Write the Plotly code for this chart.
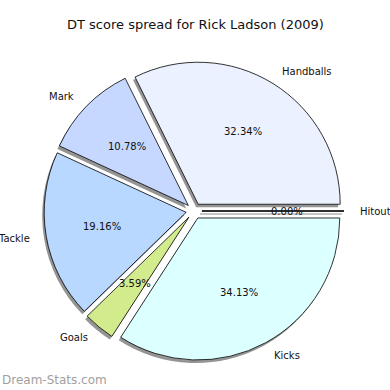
import math
import plotly.graph_objects as go

title = "DT score spread for Rick Ladson (2009)"
labels = ["Handballs", "Mark", "Tackle", "Goals", "Kicks", "Hitout"]
values = [54, 18, 32, 6, 57, 0]
colors = ["#EBF1FF", "#C6D8FF", "#B8D8FF", "#D2EB8C", "#DCFFFF", "#E8E8E8"]
watermark = "Dream-Stats.com"

W = H = 390
CX, CY = 194.0, 211.0      # pie centre (px)
R = 142.0                  # radius (px)
PULL = 0.056               # explode fraction of radius
SH_DX, SH_DY = -2.0, 3.0   # shadow offset (px)

half = R * (1 + PULL)
total = sum(values)
# plotly (counterclockwise) puts the first slice clockwise of `rotation`;
# we want it to start at 3 o'clock and go counter-clockwise
rotation = 90 - 360.0 * values[0] / total


def dom(cx, cy):
    return dict(x=[(cx - half) / W, (cx + half) / W],
                y=[1 - (cy + half) / H, 1 - (cy - half) / H])


common = dict(values=values, labels=labels, sort=False, direction="counterclockwise",
              rotation=rotation, pull=[PULL] * len(values), textinfo="none",
              hoverinfo="label+percent", showlegend=False)

fig = go.Figure()
fig.add_trace(go.Pie(domain=dom(CX + SH_DX, CY + SH_DY),
                     marker=dict(colors=["rgba(0,0,0,0.42)"] * len(values),
                                 line=dict(width=0)), **common))
fig.add_trace(go.Pie(domain=dom(CX, CY),
                     marker=dict(colors=colors, line=dict(color="black", width=0.8)),
                     **common))

ann = []
shapes = []
cum = 0.0
e = PULL * R
for lab, v in zip(labels, values):
    frac = v / total
    mid = 2 * math.pi * (cum + frac / 2)
    ox = CX + e * math.cos(mid)
    oy = CY - e * math.sin(mid)
    lx = ox + 1.1 * R * math.cos(mid)
    ly = oy - 1.1 * R * math.sin(mid)
    ann.append(dict(x=lx / W, y=1 - ly / H, xref="paper", yref="paper",
                    text=lab, showarrow=False,
                    xanchor="left" if math.cos(mid) > 0 else "right", yanchor="middle",
                    font=dict(family="DejaVu Sans", size=10, color="#111")))
    px = ox + 0.6 * R * math.cos(mid)
    py = oy - 0.6 * R * math.sin(mid)
    ann.append(dict(x=px / W, y=1 - py / H, xref="paper", yref="paper",
                    text="%.2f%%" % (100 * frac), showarrow=False,
                    xanchor="center", yanchor="middle",
                    font=dict(family="DejaVu Sans", size=10, color="#111")))
    if v == 0:
        ex = ox + R * math.cos(mid)
        ey = oy - R * math.sin(mid)
        shapes.append(dict(type="line", xref="paper", yref="paper",
                           x0=(ox + SH_DX) / W, y0=1 - (oy + SH_DY) / H,
                           x1=(ex + SH_DX) / W, y1=1 - (ey + SH_DY) / H,
                           line=dict(color="rgba(0,0,0,0.3)", width=1.5)))
        shapes.append(dict(type="line", xref="paper", yref="paper",
                           x0=ox / W, y0=1 - oy / H, x1=ex / W, y1=1 - ey / H,
                           line=dict(color="black", width=1)))
    cum += frac

ann.append(dict(x=0, y=1 - 380 / H, xref="paper", yref="paper",
                text=watermark, showarrow=False, xanchor="left", yanchor="middle",
                font=dict(family="DejaVu Sans", size=12, color="#a0a0a0")))
ann.append(dict(x=195 / W, y=1 - 25 / H, xref="paper", yref="paper",
                text=title, showarrow=False, xanchor="center", yanchor="middle",
                font=dict(family="DejaVu Sans", size=13, color="#111")))

fig.update_layout(width=W, height=H, margin=dict(l=0, r=0, t=0, b=0),
                  paper_bgcolor="white", plot_bgcolor="white",
                  annotations=ann, shapes=shapes)
fig.write_html("out.html", config={"displayModeBar": False},
               post_script="document.body.style.margin='0';")
